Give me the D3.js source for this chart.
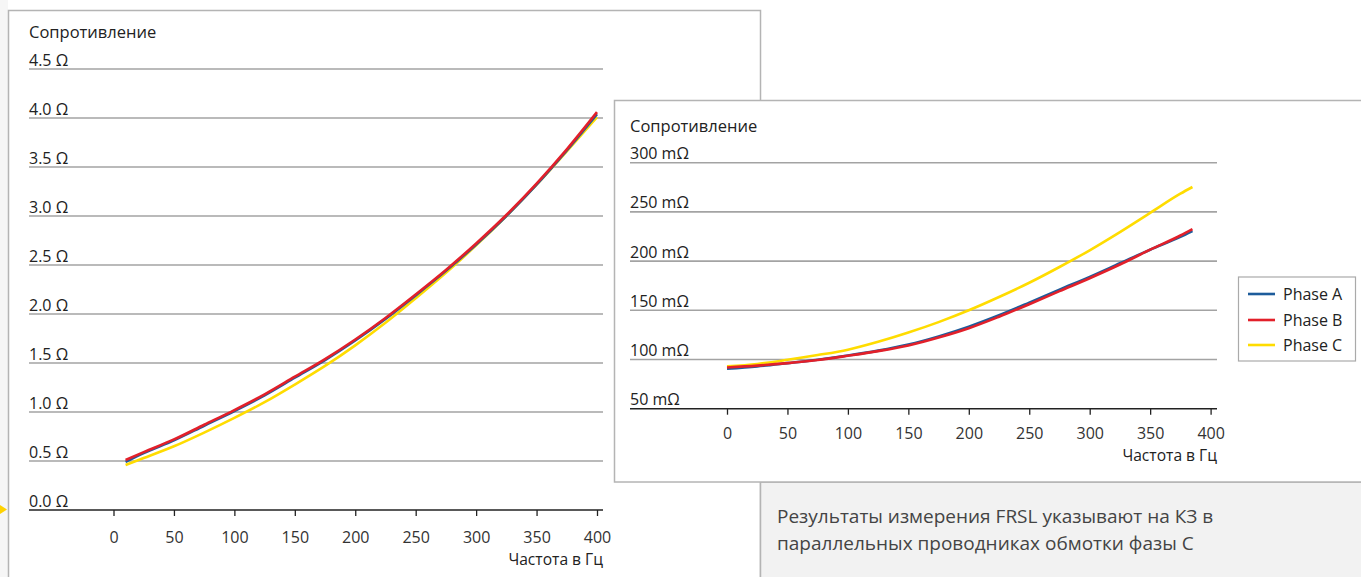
<!DOCTYPE html>
<html><head><meta charset="utf-8">
<script src="https://cdn.jsdelivr.net/npm/d3@7"></script>
<style>
html,body{margin:0;padding:0;background:#fff;}
svg{display:block;font-family:"Open Sans","Noto Sans",sans-serif;}
</style></head>
<body>
<svg id="c" width="1361" height="577"></svg>
<script>
// ---- data ----
const freqLeft = [10,25,50,75,100,125,150,175,200,225,250,275,300,325,350,375,400];
const leftA = [0.49,0.58,0.71,0.86,1.01,1.17,1.35,1.53,1.73,1.95,2.19,2.44,2.71,3.00,3.32,3.67,4.04];
const leftB = [0.51,0.59,0.72,0.87,1.02,1.18,1.36,1.54,1.74,1.96,2.20,2.45,2.72,3.01,3.33,3.68,4.06];
const leftC = [0.46,0.53,0.65,0.79,0.94,1.10,1.28,1.47,1.68,1.91,2.16,2.42,2.70,3.00,3.32,3.66,4.01];
const leftYTicks = [0,0.5,1,1.5,2,2.5,3,3.5,4,4.5];
const leftYLabels = ["0.0 Ω","0.5 Ω","1.0 Ω","1.5 Ω","2.0 Ω","2.5 Ω","3.0 Ω","3.5 Ω","4.0 Ω","4.5 Ω"];

const freqRight = [0,25,50,75,100,125,150,175,200,225,250,275,300,325,350,375,385];
const rightA = [90.6,93,96.3,99.8,104,109,115.2,123.5,133.4,145,157.8,171,184,197.8,211.6,224.6,230.6];
const rightB = [91.9,93.8,96.3,99.5,103.8,108.5,114.2,122.3,131.8,143.5,156.2,169.5,182.6,196.5,211.6,226,232.6];
const rightC = [93,95.5,99.7,104.5,110,118,127.4,138,150,163.5,178,194,211,229.5,249,268.5,275.3];
const rightYTicks = [50,100,150,200,250,300];
const rightYLabels = ["50 mΩ","100 mΩ","150 mΩ","200 mΩ","250 mΩ","300 mΩ"];

const xTicks = [0,50,100,150,200,250,300,350,400];
const seriesNames = ["Phase A","Phase B","Phase C"];
const seriesColors = ["#1d5c9b","#e2202a","#ffdc00"];
const yTitle = "Сопротивление";
const xTitle = "Частота в Гц";
const note = ["Результаты измерения FRSL указывают на КЗ в","параллельных проводниках обмотки фазы С"];

// ---- drawing ----
const svg = d3.select("#c");
const ink = "#222";
const gridCol = "#a3a3a3";
const panelBorder = "#b4b4b4";

svg.append("rect").attr("x",0).attr("y",0).attr("width",8).attr("height",577).attr("fill","#f6f6f6");
svg.append("rect").attr("x",8.5).attr("y",10.5).attr("width",752).attr("height",580)
  .attr("fill","#fff").attr("stroke",panelBorder).attr("stroke-width",1.5);
svg.append("rect").attr("x",760.5).attr("y",482).attr("width",620).attr("height",120)
  .attr("fill","#f2f2f2").attr("stroke",panelBorder).attr("stroke-width",1.5);
svg.append("rect").attr("x",614.5).attr("y",100.5).attr("width",760).attr("height",381.5)
  .attr("fill","#fff").attr("stroke",panelBorder).attr("stroke-width",1.5);
svg.append("path").attr("d","M0,505 L7,509.5 L0,514 Z").attr("fill","#ffd200");

function drawChart(opt){
  const g = svg.append("g");
  const x = d3.scaleLinear().domain([0,400]).range(opt.xr);
  const y = d3.scaleLinear().domain(opt.yd).range(opt.yr);
  g.append("text").attr("x",opt.gx0).attr("y",opt.titleY).attr("fill",ink)
    .attr("font-size",16.5).text(yTitle);
  opt.yTicks.forEach((t,i)=>{
    if(i>0){
      g.append("line").attr("x1",opt.gx0).attr("x2",opt.gx1).attr("y1",y(t)).attr("y2",y(t))
        .attr("stroke",gridCol).attr("stroke-width",1.6);
    }
    g.append("text").attr("x",opt.gx0).attr("y",y(t)-3.5).attr("fill",ink)
      .attr("font-size",16).text(opt.yLabels[i]);
  });
  const ax = d3.axisBottom(x).tickValues(xTicks).tickSize(6).tickPadding(opt.tickPad).tickFormat(d3.format("d"));
  const axg = g.append("g").attr("transform",`translate(0,${y(opt.yd[0])})`).call(ax);
  axg.select(".domain").remove();
  axg.selectAll(".tick line").attr("stroke",ink).attr("stroke-width",1.3);
  axg.selectAll(".tick text").attr("fill","#333").attr("font-size",16)
     .attr("font-family","'Open Sans','Noto Sans',sans-serif");
  g.append("line").attr("x1",opt.gx0).attr("x2",opt.gx1).attr("y1",y(opt.yd[0])).attr("y2",y(opt.yd[0]))
    .attr("stroke",ink).attr("stroke-width",1.6);
  g.append("text").attr("x",opt.gx1).attr("y",opt.xTitleY).attr("text-anchor","end")
    .attr("fill",ink).attr("font-size",15.6).text(xTitle);
  const line = d3.line().x((d,i)=>x(opt.freq[i])).y(d=>y(d)).curve(d3.curveMonotoneX);
  [2,0,1].forEach(k=>{
    g.append("path").datum(opt.series[k]).attr("d",line).attr("fill","none")
      .attr("stroke",seriesColors[k]).attr("stroke-width",2.6).attr("stroke-linejoin","round");
  });
}

drawChart({xr:[113.5,597], yd:[0,4.5], yr:[510,69], gx0:29, gx1:603, titleY:38,
  yTicks:leftYTicks, yLabels:leftYLabels, freq:freqLeft, series:[leftA,leftB,leftC],
  xTitleY:565, tickPad:16});
drawChart({xr:[727,1210.6], yd:[50,300], yr:[408.7,162.7], gx0:630, gx1:1217, titleY:132,
  yTicks:rightYTicks, yLabels:rightYLabels, freq:freqRight, series:[rightA,rightB,rightC],
  xTitleY:461, tickPad:13});

const lg = svg.append("g");
lg.append("rect").attr("x",1238.5).attr("y",277).attr("width",117).attr("height",84)
  .attr("fill","#fff").attr("stroke","#aaa").attr("stroke-width",1.2);
const legY = [294,320,345];
seriesNames.forEach((n,i)=>{
  lg.append("line").attr("x1",1248).attr("x2",1275).attr("y1",legY[i]).attr("y2",legY[i])
    .attr("stroke",seriesColors[i]).attr("stroke-width",2.6);
  lg.append("text").attr("x",1283).attr("y",legY[i]+5.5).attr("fill",ink).attr("font-size",16).text(n);
});

note.forEach((t,i)=>{
  svg.append("text").attr("x",777).attr("y",523+i*27).attr("fill","#444").attr("font-size",19).text(t);
});
</script>
</body></html>
